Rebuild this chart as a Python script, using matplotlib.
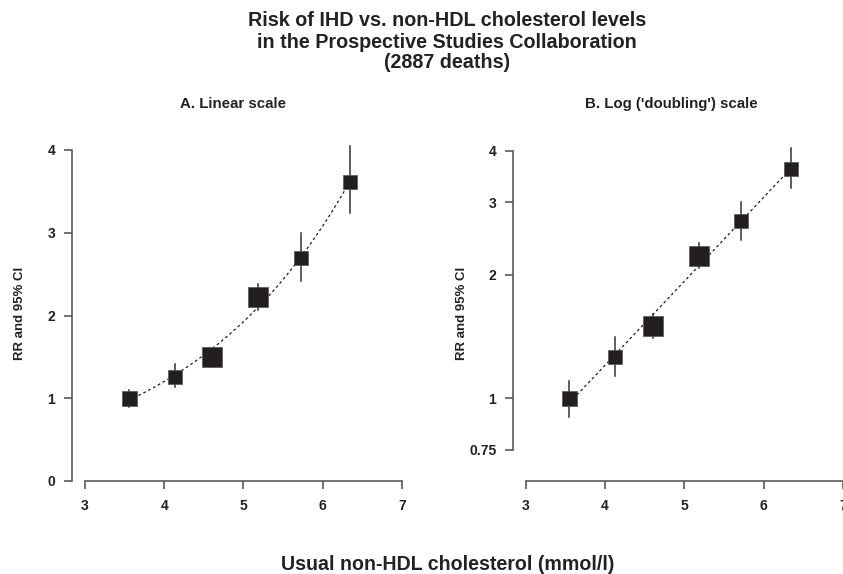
import numpy as np
import matplotlib
matplotlib.use("Agg")
import matplotlib.pyplot as plt
from matplotlib.ticker import FixedLocator, NullLocator

# ----------------------------------------------------------------------
# data
# ----------------------------------------------------------------------
chol = [3.55, 4.13, 4.60, 5.18, 5.72, 6.35]      # usual non-HDL cholesterol (mmol/l)
rr = [1.00, 1.26, 1.50, 2.22, 2.70, 3.61]        # relative risk
ci_lo = [0.90, 1.13, 1.40, 2.07, 2.42, 3.24]
ci_hi = [1.10, 1.41, 1.60, 2.38, 3.00, 4.05]

lin_ticks = [0, 1, 2, 3, 4]
log_ticks = [0.75, 1, 2, 3, 4]
log_tick_labels = ["0.75", "1", "2", "3", "4"]
x_ticks = [3, 4, 5, 6, 7]

title_lines = ["Risk of IHD vs. non-HDL cholesterol levels",
               "in the Prospective Studies Collaboration",
               "(2887 deaths)"]

box_px = [15, 14, 20, 20, 14, 14]   # box sides in pixels (as drawn)

plt.rcParams['font.family'] = ['Liberation Sans', 'DejaVu Sans']
plt.rcParams['font.weight'] = 'bold'

W, H = 843, 574
fig = plt.figure(figsize=(W / 100, H / 100), dpi=100)

AX_COL = '#5a5a5a'
INK = '#231f20'
TXT = '#222222'


def px_axes(left, right, top, bottom):
    return fig.add_axes([left / W, 1 - bottom / H, (right - left) / W, (bottom - top) / H])


# trend line: log-linear fit through the estimates
coef = np.polyfit(chol, np.log(rr), 1)
fit_x = np.linspace(chol[0], chol[-1], 200)
fit_y = np.exp(np.polyval(coef, fit_x))


def draw_panel(ax):
    ax.plot(fit_x, fit_y, color=INK, lw=0.9, ls=(0, (2.2, 2.2)), zorder=1)
    for x, lo, hi in zip(chol, ci_lo, ci_hi):
        ax.plot([x, x], [lo, hi], color='#333333', lw=1.1, zorder=2, clip_on=False)
    for x, y, s in zip(chol, rr, box_px):
        ax.plot(x, y, marker='s', ms=s * 0.72, color=INK, mec='#555555', mew=0.5,
                ls='none', zorder=3, clip_on=False)
    for side in ['top', 'right']:
        ax.spines[side].set_visible(False)
    for side in ['left', 'bottom']:
        ax.spines[side].set_color(AX_COL)
        ax.spines[side].set_linewidth(1.2)
    ax.spines['bottom'].set_bounds(3, 7)
    ax.xaxis.set_major_locator(FixedLocator(x_ticks))
    ax.set_xticklabels([str(t) for t in x_ticks])
    ax.tick_params(axis='both', length=6, width=1.2, color=AX_COL, labelsize=10,
                   labelcolor=TXT)
    ax.tick_params(axis='x', pad=7)
    ax.tick_params(axis='y', pad=6)
    ax.set_ylabel('RR and 95% CI', fontsize=9.5, fontweight='bold', color=TXT)
    ax.patch.set_alpha(0)


# A. linear scale
axA = px_axes(72, 402, 146, 481)
axA.set_xlim(3 - 13 / 79.25, 7)
axA.set_ylim(0, 4 + 4 / 82.75)
draw_panel(axA)
axA.spines['left'].set_bounds(0, 4)
axA.yaxis.set_major_locator(FixedLocator(lin_ticks))
axA.set_yticklabels([str(t) for t in lin_ticks])
axA.yaxis.set_label_coords(-46 / 330, 0.5)

# B. log ('doubling') scale
axB = px_axes(513, 843, 146, 481)
axB.set_xlim(3 - 12.7 / 79.3, 7)
axB.set_yscale('log')
axB.set_ylim(np.exp(-(481 - 398.3) / 178.6), np.exp((398.3 - 146) / 178.6))
draw_panel(axB)
axB.spines['left'].set_bounds(0.75, 4)
axB.yaxis.set_major_locator(FixedLocator(log_ticks))
axB.yaxis.set_minor_locator(NullLocator())
axB.set_yticklabels(log_tick_labels)
axB.yaxis.set_label_coords(-45 / 330, 0.5)

# titles
for line, yy in zip(title_lines, [20, 42, 63]):
    fig.text(447 / W, 1 - yy / H, line, ha='center', va='center', fontsize=14.2,
             fontweight='bold', color=TXT)
fig.text(233 / W, 1 - 104 / H, "A. Linear scale", ha='center', va='center',
         fontsize=10.8, fontweight='bold', color=TXT)
fig.text(671 / W, 1 - 104 / H, "B. Log ('doubling') scale", ha='center', va='center',
         fontsize=10.8, fontweight='bold', color=TXT)
fig.text(448 / W, 1 - 565 / H, "Usual non-HDL cholesterol (mmol/l)", ha='center',
         va='center', fontsize=14.1, fontweight='bold', color=TXT)

fig.savefig('out.png', dpi=100, facecolor='white')
